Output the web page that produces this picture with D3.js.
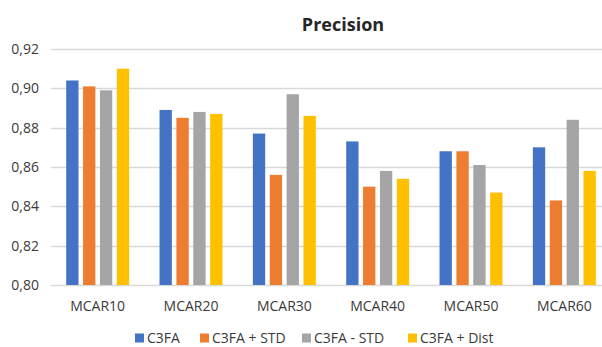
<!DOCTYPE html>
<html>
<head>
<meta charset="utf-8">
<script src="https://cdn.jsdelivr.net/npm/d3@7"></script>
<style>
  html, body { margin: 0; padding: 0; background: #fff; }
  svg { display: block; }
</style>
</head>
<body>
<svg id="chart" width="602" height="347"></svg>
<script>
// Precision per missing-data rate for four method variants
const categories = ["MCAR10", "MCAR20", "MCAR30", "MCAR40", "MCAR50", "MCAR60"];
const seriesNames = ["C3FA", "C3FA + STD", "C3FA - STD", "C3FA + Dist"];
const c3fa     = [0.904, 0.889, 0.877, 0.873, 0.868, 0.870];
const c3faStd  = [0.901, 0.885, 0.856, 0.850, 0.868, 0.843];
const c3faMStd = [0.899, 0.888, 0.897, 0.858, 0.861, 0.884];
const c3faDist = [0.910, 0.887, 0.886, 0.854, 0.847, 0.858];
const yTicks = [0.80, 0.82, 0.84, 0.86, 0.88, 0.90, 0.92];
const colors = ["#4472C4", "#ED7D31", "#A5A5A5", "#FFC000"];

const seriesValues = [c3fa, c3faStd, c3faMStd, c3faDist];
const rows = categories.map((c, i) => ({
  cat: c,
  vals: seriesNames.map((s, j) => ({ key: s, value: seriesValues[j][i], color: colors[j] }))
}));

const svg = d3.select("#chart");
const font = "'Open Sans', sans-serif";

const plot = { left: 51, right: 611, top: 49, bottom: 285 };

const x0 = d3.scaleBand().domain(categories).range([plot.left, plot.right]).paddingInner(0).paddingOuter(0);
const x1 = d3.scaleBand().domain(seriesNames).range([0, x0.bandwidth()]).paddingInner(0.27).paddingOuter(0.9);
const y = d3.scaleLinear().domain([0.80, 0.92]).range([plot.bottom, plot.top]);

svg.append("defs").append("clipPath").attr("id", "clip")
  .append("rect").attr("x", 0).attr("y", 0).attr("width", 602).attr("height", 347);

const g = svg.append("g").attr("clip-path", "url(#clip)");

// horizontal gridlines
g.append("g").selectAll("line").data(yTicks).join("line")
  .attr("x1", plot.left).attr("x2", plot.right)
  .attr("y1", d => Math.round(y(d)) + 0.5).attr("y2", d => Math.round(y(d)) + 0.5)
  .attr("stroke", "#d9d9d9").attr("stroke-width", 1.5);

// y axis labels
const fmt = d => d3.format(".2f")(d).replace(".", ",");
const yAxis = d3.axisLeft(y).tickValues(yTicks).tickFormat(fmt).tickSize(0).tickPadding(0);
const ya = svg.append("g").attr("transform", `translate(39,0)`).call(yAxis);
ya.select(".domain").remove();
ya.selectAll("text").attr("font-family", font).attr("font-size", 14).attr("fill", "#3a3a3a");

// bars
const groups = g.append("g").selectAll("g").data(rows).join("g")
  .attr("transform", d => `translate(${x0(d.cat)},0)`);
groups.selectAll("rect").data(d => d.vals).join("rect")
  .attr("x", d => x1(d.key))
  .attr("width", x1.bandwidth())
  .attr("y", d => y(d.value))
  .attr("height", d => y(0.80) - y(d.value))
  .attr("fill", d => d.color);

// x axis labels
const xAxis = d3.axisBottom(x0).tickSize(0).tickPadding(0);
const xa = svg.append("g").attr("transform", `translate(0,${plot.bottom + 16})`).call(xAxis);
xa.select(".domain").remove();
xa.selectAll("text").attr("font-family", font).attr("font-size", 14).attr("fill", "#3a3a3a")
  .attr("dy", "0.32em").attr("y", 6);

// title
svg.append("text").attr("x", 343).attr("y", 25).attr("dy", "0.35em")
  .attr("text-anchor", "middle").attr("font-family", font).attr("font-weight", "bold")
  .attr("font-size", 18).attr("fill", "#262626").text("Precision");

// legend
const legendX = [135, 200, 302, 408];
const legend = svg.append("g").selectAll("g").data(seriesNames).join("g")
  .attr("transform", (d, i) => `translate(${legendX[i]},338)`);
legend.append("rect").attr("x", 0).attr("y", -4.5).attr("width", 9).attr("height", 9)
  .attr("fill", (d, i) => colors[i]);
legend.append("text").attr("x", 12).attr("y", 0).attr("dy", "0.35em")
  .attr("font-family", font).attr("font-size", 14).attr("fill", "#3a3a3a").text(d => d);
</script>
</body>
</html>
